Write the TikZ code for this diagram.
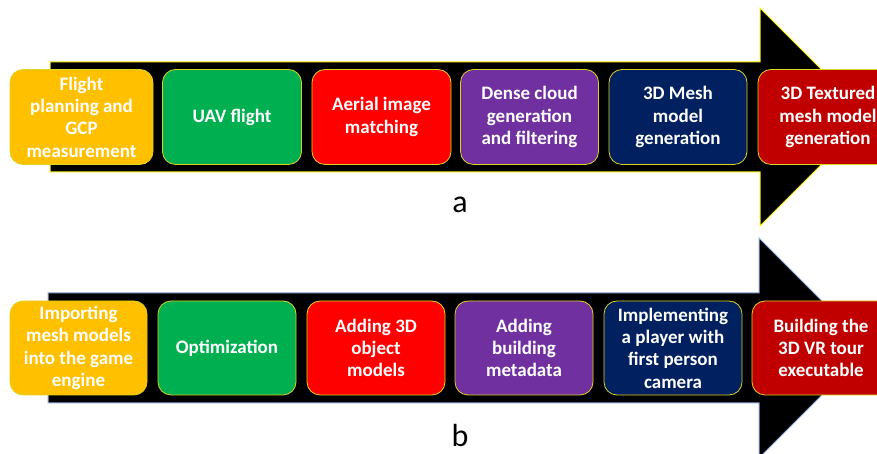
\documentclass[tikz,border=0pt]{standalone}
\usepackage{fontspec}
\setmainfont{Carlito}
\usepackage{xcolor}
\usetikzlibrary{math}

\definecolor{stageorange}{HTML}{FFC000}
\definecolor{stagegreen}{HTML}{00B050}
\definecolor{stagered}{HTML}{FF0000}
\definecolor{stagepurple}{HTML}{7030A0}
\definecolor{stagenavy}{HTML}{002060}
\definecolor{stagedarkred}{HTML}{C00000}
\definecolor{outlineblue}{RGB}{143,170,220}

\begin{document}
\begin{tikzpicture}[x=1pt,y=1pt,
  stage/.style={draw=yellow!85!black, line width=0.8pt, rounded corners=13pt,
    minimum height=95pt, inner sep=1pt, align=center, text=white,
    font=\fontsize{19}{22.3}\selectfont\bfseries},
  panel/.style={font=\fontsize{32}{36}\selectfont, inner sep=0pt}]
\tikzmath{
\ya=337;
\yb=106;
\sh=55;
\hd=109;
\hx=760;
\tip=869;
}
\useasboundingbox (0,0) rectangle (877,454);

% arrow a
\draw[fill=black, draw=yellow, line width=1pt] (50,\ya-\sh) -- (50,\ya+\sh) -- (\hx,\ya+\sh) -- (\hx,\ya+\hd) -- (\tip,\ya) -- (\hx,\ya-\hd) -- (\hx,\ya-\sh) -- cycle;

% arrow b
\draw[fill=black, draw=outlineblue, line width=1pt] (48,\yb-\sh) -- (48,\yb+\sh) -- (\hx-1,\yb+\sh) -- (\hx-1,\yb+\hd+1) -- (\tip,\yb) -- (\hx-1,\yb-\hd-1) -- (\hx-1,\yb-\sh) -- cycle;

% stages a
\node[stage, fill=stageorange, minimum width=143pt] (a1) at (81.5,\ya) {Flight\\planning and\\GCP\\measurement};
\node[stage, fill=stagegreen, minimum width=139pt] (a2) at (232,\ya) {UAV flight};
\node[stage, fill=stagered, minimum width=139pt] (a3) at (381.5,\ya) {Aerial image\\matching};
\node[stage, fill=stagepurple, minimum width=138pt] (a4) at (529.5,\ya) {Dense cloud\\generation\\and filtering};
\node[stage, fill=stagenavy, minimum width=138pt] (a5) at (678,\ya) {3D Mesh\\model\\generation};
\node[stage, fill=stagedarkred, minimum width=140pt] (a6) at (828,\ya) {3D Textured\\mesh model\\generation};

% stages b
\node[stage, fill=stageorange, minimum width=137pt, minimum height=94pt] (b1) at (78.5,\yb) {Importing\\mesh models\\into the game\\engine};
\node[stage, fill=stagegreen, minimum width=138pt, minimum height=94pt] (b2) at (227,\yb) {Optimization};
\node[stage, fill=stagered, minimum width=138pt, minimum height=94pt] (b3) at (376,\yb) {Adding 3D\\object\\models};
\node[stage, fill=stagepurple, minimum width=138pt, minimum height=94pt] (b4) at (524,\yb) {Adding\\building\\metadata};
\node[stage, fill=stagenavy, minimum width=138pt, minimum height=94pt] (b5) at (673,\yb) {Implementing\\a player with\\first person\\camera};
\node[stage, fill=stagedarkred, minimum width=138pt, minimum height=94pt] (b6) at (821,\yb) {Building the\\3D VR tour\\executable};

\node[panel, anchor=base] (pa) at (460,241) {a};
\node[panel, anchor=base] (pb) at (460,7) {b};
\end{tikzpicture}
\end{document}
